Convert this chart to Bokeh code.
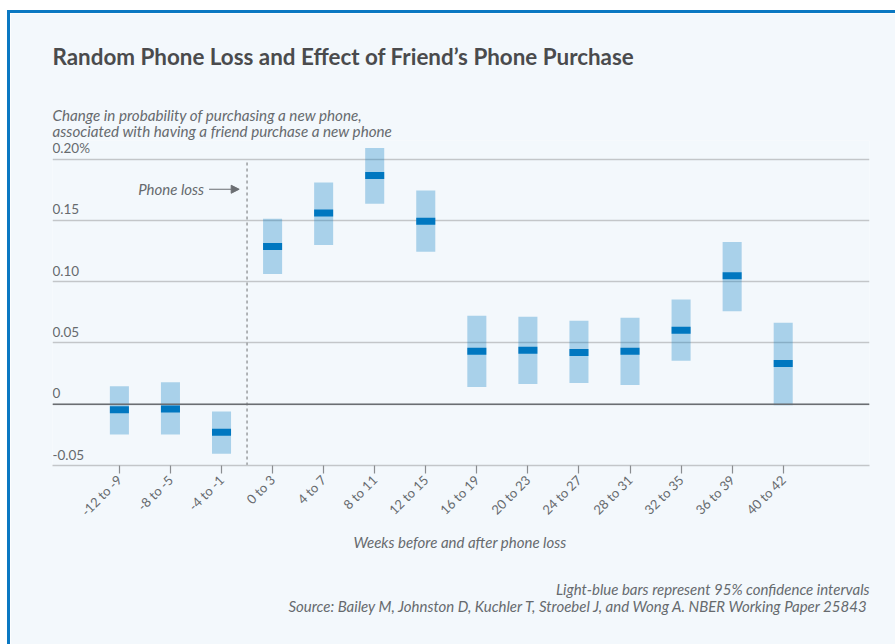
import math
from bokeh.plotting import figure
from bokeh.models import (Range1d, FixedTicker, Label, LabelSet, ColumnDataSource,
                          Span, Arrow, NormalHead)
from bokeh.embed import file_html
from bokeh.resources import INLINE
from bokeh.core.properties import value

# ---------------- data ----------------
categories = ["-12 to -9", "-8 to -5", "-4 to -1", "0 to 3", "4 to 7", "8 to 11",
              "12 to 15", "16 to 19", "20 to 23", "24 to 27", "28 to 31",
              "32 to 35", "36 to 39", "40 to 42"]
estimate = [-0.0046, -0.0038, -0.0228, 0.1288, 0.1560, 0.1866, 0.1494,
            0.0432, 0.0440, 0.0423, 0.0432, 0.0604, 0.1049, 0.0333]
ci_low = [-0.0247, -0.0247, -0.0404, 0.1063, 0.1300, 0.1635, 0.1244,
          0.0140, 0.0165, 0.0173, 0.0157, 0.0354, 0.0758, -0.0008]
ci_high = [0.0146, 0.0179, -0.0060, 0.1513, 0.1810, 0.2090, 0.1744,
           0.0722, 0.0714, 0.0681, 0.0706, 0.0854, 0.1324, 0.0665]
y_ticks = [-0.05, 0.0, 0.05, 0.10, 0.15, 0.20]
y_tick_labels = ["-0.05", "0", "0.05", "0.10", "0.15", "0.20%"]
phone_loss_x = 2.5

title = "Random Phone Loss and Effect of Friend\u2019s Phone Purchase"
subtitle1 = "Change in probability of purchasing a new phone,"
subtitle2 = "associated with having a friend purchase a new phone"
x_title = "Weeks before and after phone loss"
note1 = "Light-blue bars represent 95% confidence intervals"
note2 = "Source: Bailey M, Johnston D, Kuchler T, Stroebel J, and Wong A. NBER Working Paper 25843"

# ---------------- layout (page coordinates) ----------------
CX, CY = 10, 13            # canvas origin inside the page (after margin + border)
W, H = 895 - CX, 644 - CY
FL, FR, FT, FB = 52, 866, 140, 462
x_range = Range1d(-1.31, 14.69)
y_range = Range1d(-0.05, 0.2152)

def dx(xp):
    return x_range.start + (xp - FL) * (x_range.end - x_range.start) / (FR - FL)

def dy(yp):
    return y_range.start + (FB - yp) * (y_range.end - y_range.start) / (FB - FT)

BG = "#f3f8fc"
BLUE = "#0077c0"
BORDER = "#0a78c2"
GRAY_TXT = "#666a6e"
FONT = "Lato"

p = figure(width=W, height=H, x_range=x_range, y_range=y_range, title=None,
           output_backend="svg", toolbar_location=None,
           min_border_left=FL - CX, min_border_right=(CX + W) - FR,
           min_border_top=FT - CY, min_border_bottom=(CY + H) - FB)
p.background_fill_color = BG
p.border_fill_color = BG
p.outline_line_color = None
p.styles = {"box-sizing": "content-box", "margin-left": "7px", "margin-top": "10px",
            "border-left": "3px solid " + BORDER, "border-top": "3px solid " + BORDER}

# axes
p.yaxis.visible = False
p.xgrid.visible = False
p.ygrid.ticker = FixedTicker(ticks=y_ticks)
p.ygrid.grid_line_color = "#c3c6c9"
p.ygrid.grid_line_width = 1.3

xa = p.xaxis[0]
xa.ticker = FixedTicker(ticks=list(range(len(categories))))
xa.major_label_overrides = {i: c for i, c in enumerate(categories)}
xa.major_label_orientation = math.pi / 4
xa.axis_line_color = "#c3c6c9"
xa.axis_line_width = 1.3
xa.major_tick_line_color = "#8a8d90"
xa.major_tick_line_width = 1.2
xa.major_tick_out = 8
xa.major_tick_in = 0
xa.minor_tick_line_color = None
xa.major_label_text_font = FONT
xa.major_label_text_font_size = "13px"
xa.major_label_text_color = GRAY_TXT
xa.major_label_standoff = 4

# zero line
p.add_layout(Span(location=0, dimension="width", line_color="#6b6e72", line_width=1.5))

# phone loss marker
p.segment(x0=[phone_loss_x], x1=[phone_loss_x], y0=[y_ticks[0]], y1=[y_ticks[-1] - 0.0015],
          line_color="#9a9da0", line_width=1.5, line_dash="3 3")

src = ColumnDataSource(dict(x=list(range(len(categories))), lo=ci_low, hi=ci_high,
                            est=estimate))
p.vbar(x="x", bottom="lo", top="hi", width=0.373, fill_color=BLUE, fill_alpha=0.3,
       line_color=None, source=src)
p.rect(x="x", y="est", width=0.373, height=7, height_units="screen",
       fill_color=BLUE, line_color=None, source=src)

# y tick labels (drawn inside the plot, above each grid line)
ysrc = ColumnDataSource(dict(x=[dx(FL)] * len(y_ticks), y=y_ticks, t=y_tick_labels))
p.add_layout(LabelSet(x="x", y="y", text="t", source=ysrc, y_offset=6,
                      text_font=value(FONT), text_font_size="13.5px",
                      text_color=GRAY_TXT, text_baseline="alphabetic", text_align="left"))

def lab(text, xp, yp, loc="center", size=15, style="italic", color=GRAY_TXT, align="left"):
    # yp is the wanted baseline; Label anchors near the middle of the line box
    lbl = Label(x=dx(xp), y=dy(yp - 0.38 * size), text=text, text_font=FONT,
                text_font_size="%gpx" % size, text_font_style=style, text_color=color,
                text_align=align, text_baseline="alphabetic")
    if loc == "center":
        p.add_layout(lbl)
    else:
        p.add_layout(lbl, loc)

lab(title, 52, 65.7, loc="above", size=22.4, style="bold", color="#4a4b4d")
lab(subtitle1, 52, 120.5, loc="above", size=15.2)
lab(subtitle2, 52, 136, loc="above", size=15.2)
lab("Phone loss", 203, 193.3, align="right")
lab(x_title, 458, 543, loc="below", align="center")
lab(note1, 866, 590.5, loc="below", align="right")
lab(note2, 866, 606.5, loc="below", align="right")

p.add_layout(Arrow(x_start=dx(208), y_start=dy(188.3), x_end=dx(238), y_end=dy(188.3),
                   line_color="#6b6e72", line_width=1,
                   end=NormalHead(size=8, fill_color="#6b6e72", line_color="#6b6e72")))

open("out.html", "w").write(file_html(p, INLINE))
